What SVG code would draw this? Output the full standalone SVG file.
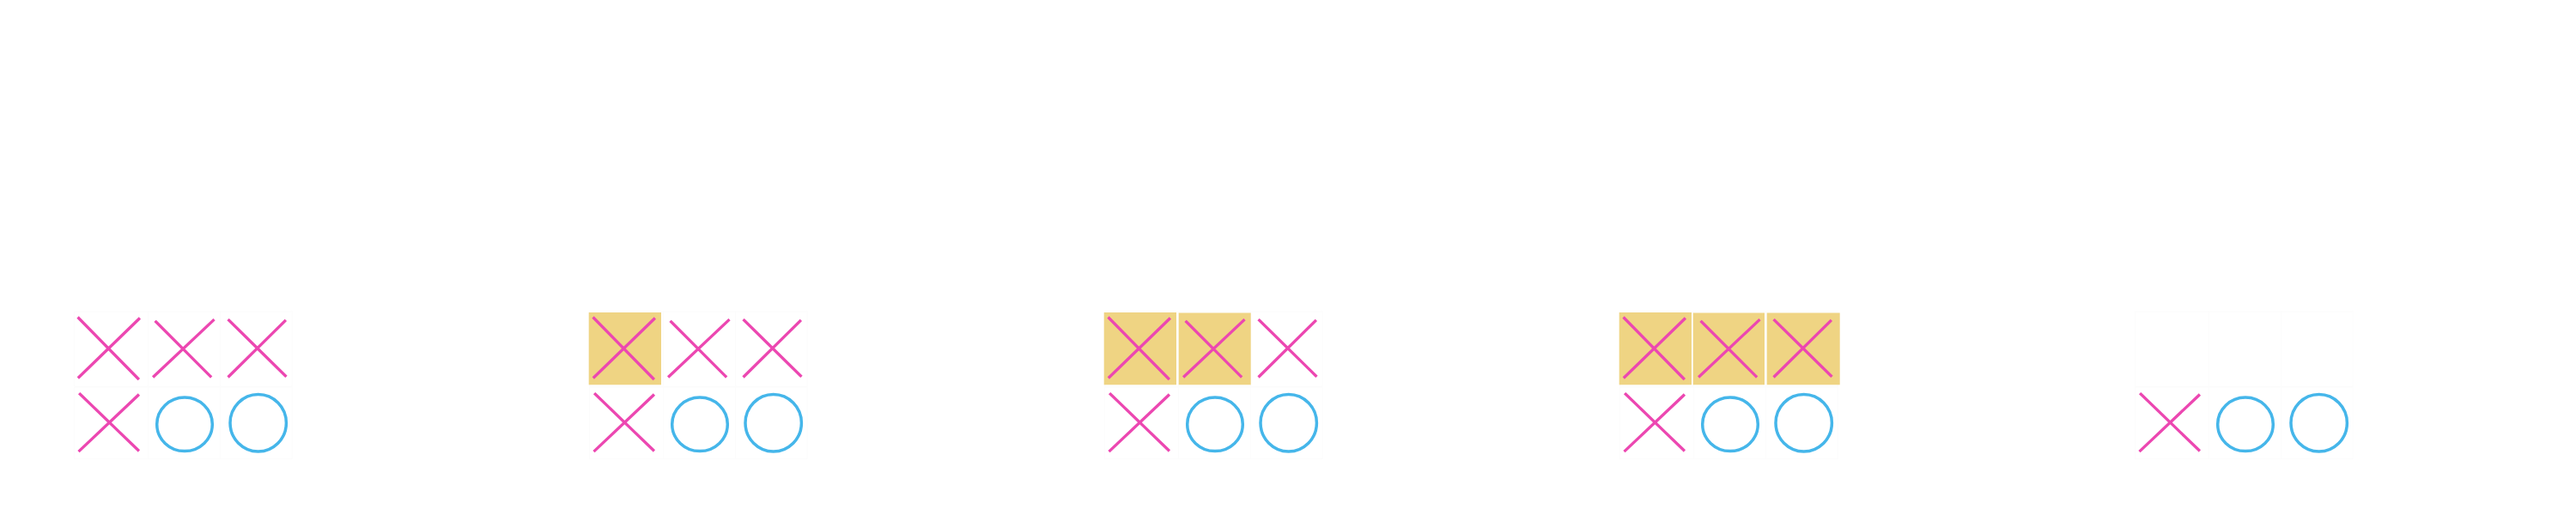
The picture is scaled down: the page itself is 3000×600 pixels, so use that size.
<svg xmlns="http://www.w3.org/2000/svg" width="3000" height="600" viewBox="0 0 3000 600">
  <style>
    .x { fill: none; stroke: #EC47B1; stroke-width: 3.3; stroke-linecap: square; }
    .o { fill: none; stroke: #45B6EA; stroke-width: 3.5; }
    .hl { fill: #EFD483; }
    .cell { fill: none; stroke: #FCFCFC; stroke-width: 1; }
  </style>
  <defs>
    <g id="cells">
      <rect class="cell" x="86.7" y="363" width="85.6" height="87"/>
      <rect class="cell" x="172.3" y="363" width="84.4" height="87"/>
      <rect class="cell" x="256.7" y="363" width="83.3" height="87"/>
      <rect class="cell" x="86.7" y="451" width="85.6" height="83.5"/>
      <rect class="cell" x="172.3" y="451" width="84.4" height="83.5"/>
      <rect class="cell" x="256.7" y="451" width="83.3" height="83.5"/>
    </g>
    <path id="xTop1" class="x" d="M91.7,370.7 L160.7,441 M161.7,371.7 L92,439.3"/>
    <path id="xTop2" class="x" d="M181.7,375 L245,438.3 M248.3,373.3 L179.3,438.3"/>
    <path id="xTop3" class="x" d="M266.7,373.3 L332.3,437.7 M331.7,374 L266.7,438.3"/>
    <path id="xBot" class="x" d="M93.3,459.3 L160.7,524.3 M160.7,460.7 L92.7,525"/>
    <ellipse id="o1" class="o" cx="215" cy="494.3" rx="32.3" ry="31.3"/>
    <ellipse id="o2" class="o" cx="300.7" cy="492.7" rx="32.7" ry="33.3"/>
  </defs>
  <rect width="3000" height="600" fill="#FFFFFF"/>

  <g id="board1">
    <use href="#cells"/>
    <use href="#xTop1"/><use href="#xTop2"/><use href="#xTop3"/>
    <use href="#xBot"/><use href="#o1"/><use href="#o2"/>
  </g>

  <g id="board2" transform="translate(600,0)">
    <use href="#cells"/>
    <rect class="hl" x="85.7" y="364" width="84.3" height="84.3"/>
    <use href="#xTop1"/><use href="#xTop2"/><use href="#xTop3"/>
    <use href="#xBot"/><use href="#o1"/><use href="#o2"/>
  </g>

  <g id="board3" transform="translate(1200,0)">
    <use href="#cells"/>
    <rect class="hl" x="85.7" y="364" width="84.3" height="84.3"/>
    <rect class="hl" x="172.7" y="364.5" width="84" height="83.8"/>
    <use href="#xTop1"/><use href="#xTop2"/><use href="#xTop3"/>
    <use href="#xBot"/><use href="#o1"/><use href="#o2"/>
  </g>

  <g id="board4" transform="translate(1800,0)">
    <use href="#cells"/>
    <rect class="hl" x="85.7" y="364" width="84.3" height="84.3"/>
    <rect class="hl" x="171.7" y="364.5" width="83.3" height="83.8"/>
    <rect class="hl" x="257.7" y="364.5" width="85" height="83.8"/>
    <use href="#xTop1"/><use href="#xTop2"/><use href="#xTop3"/>
    <use href="#xBot"/><use href="#o1"/><use href="#o2"/>
  </g>

  <g id="board5" transform="translate(2400,0)">
    <use href="#cells"/>
    <use href="#xBot"/><use href="#o1"/><use href="#o2"/>
  </g>

  <g id="connectors"/>
</svg>
